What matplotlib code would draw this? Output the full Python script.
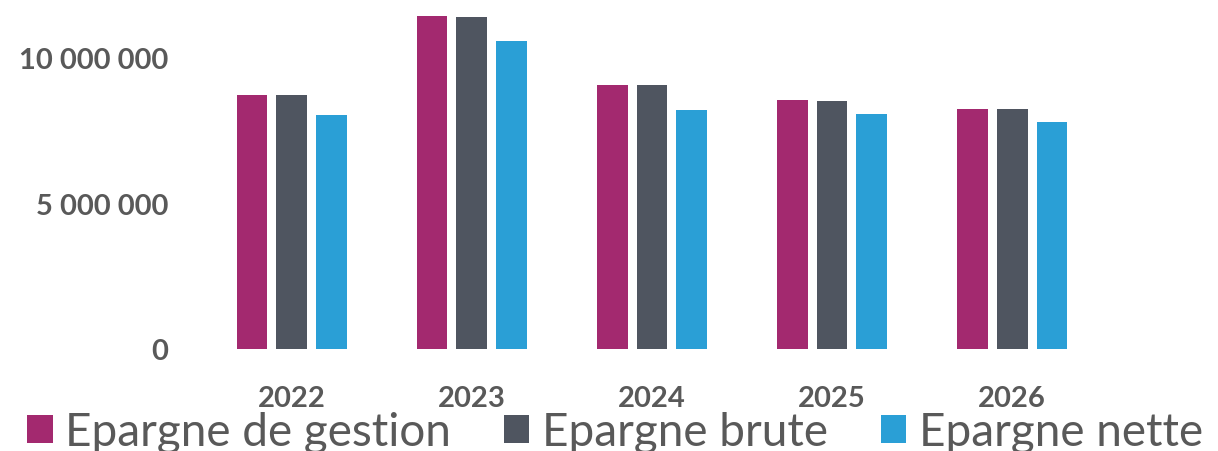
import matplotlib
matplotlib.use("Agg")
import matplotlib.pyplot as plt
import numpy as np

years = ["2022", "2023", "2024", "2025", "2026"]
epargne_gestion = [8.70e6, 11.43e6, 9.04e6, 8.53e6, 8.22e6]
epargne_brute = [8.70e6, 11.40e6, 9.04e6, 8.50e6, 8.22e6]
epargne_nette = [8.02e6, 10.55e6, 8.19e6, 8.05e6, 7.78e6]

series = [
    ("Epargne de gestion", epargne_gestion, "#A3296F"),
    ("Epargne brute", epargne_brute, "#4F5560"),
    ("Epargne nette", epargne_nette, "#2A9FD6"),
]

plt.rcParams["font.family"] = ["Lato", "DejaVu Sans"]
grey = "#595959"

fig = plt.figure(figsize=(12.18, 4.52), dpi=100)
ax = fig.add_axes([0.1658, 0.2257, 0.739, 0.774])

x = np.arange(len(years))
w = 0.172
step = 0.222
for i, (name, vals, col) in enumerate(series):
    ax.bar(x + (i - 1) * step, vals, width=w, color=col, label=name)

ax.set_xlim(-0.5, len(years) - 0.5)
ax.set_ylim(0, 12e6)
ax.set_yticks([0, 5e6, 10e6])
ax.set_yticklabels(["0", "5 000 000", "10 000 000"])
ax.set_xticks(x)
ax.set_xticklabels(years)
for s in ax.spines.values():
    s.set_visible(False)
ax.tick_params(axis="y", length=0, pad=24, labelsize=21, labelcolor=grey)
ax.tick_params(axis="x", length=0, pad=26, labelsize=21, labelcolor=grey)
for lab in ax.get_xticklabels() + ax.get_yticklabels():
    lab.set_fontweight("bold")

fig.legend(loc="lower center", bbox_to_anchor=(0.505, -0.045), ncol=3,
           frameon=False, fontsize=33, labelcolor=grey,
           handlelength=0.55, handleheight=0.55, handletextpad=0.28,
           columnspacing=1.15, borderaxespad=0)

fig.savefig("out.png", dpi=100)
